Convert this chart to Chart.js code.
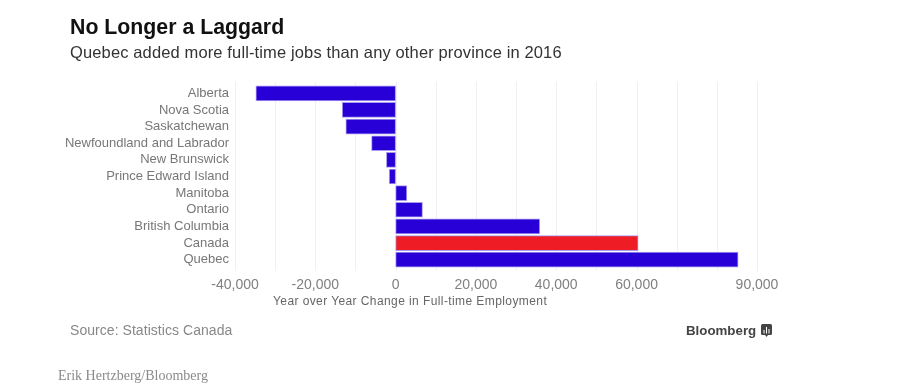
<!DOCTYPE html>
<html>
<head>
<meta charset="utf-8">
<script src="https://cdn.jsdelivr.net/npm/chart.js@4"></script>
<style>
  html, body { margin: 0; padding: 0; background: #fff; }
  #wrap { position: relative; width: 920px; height: 388px; overflow: hidden; font-family: "Liberation Sans", Arial, sans-serif; }
  #stockChart { position: absolute; left: 0; top: 0; }
  .txt { position: absolute; white-space: nowrap; line-height: 1; }
  #title { left: 70px; top: 17px; font-size: 21.3px; font-weight: bold; color: #111; }
  #subtitle { left: 70px; top: 44px; font-size: 16.5px; color: #333; letter-spacing: 0.13px; }
  #axisTitle { left: 273px; top: 295px; font-size: 12px; color: #666; letter-spacing: 0.41px; }
  #source { left: 70px; top: 323px; font-size: 14px; color: #888; letter-spacing: 0.05px; }
  #brand { left: 686px; top: 324px; font-size: 13.3px; font-weight: bold; color: #444; }
  #logo { position: absolute; left: 761px; top: 324px; }
  #credit { left: 58px; top: 369px; font-family: "Liberation Serif", serif; font-size: 14px; color: #8a8a8a; }
</style>
</head>
<body>
<div id="wrap">
  <canvas id="stockChart" width="920" height="388"></canvas>
  <div class="txt" id="title">No Longer a Laggard</div>
  <div class="txt" id="subtitle">Quebec added more full-time jobs than any other province in 2016</div>
  <div class="txt" id="axisTitle">Year over Year Change in Full-time Employment</div>
  <div class="txt" id="source">Source: Statistics Canada</div>
  <div class="txt" id="brand">Bloomberg</div>
  <svg id="logo" width="11" height="14" viewBox="0 0 11 14">
    <rect x="0" y="0" width="11" height="11" rx="1.5" fill="#444"/>
    <path d="M4 11h3l-1.5 2z" fill="#444"/>
    <rect x="2.5" y="6" width="1" height="3.5" fill="#fff"/>
    <rect x="5" y="3" width="1" height="6.5" fill="#fff"/>
    <rect x="7.5" y="5" width="1" height="4.5" fill="#fff"/>
  </svg>
  <div class="txt" id="credit">Erik Hertzberg/Bloomberg</div>
</div>
<script>
let categories = ["Alberta", "Nova Scotia", "Saskatchewan", "Newfoundland and Labrador", "New Brunswick",
  "Prince Edward Island", "Manitoba", "Ontario", "British Columbia", "Canada", "Quebec"];
let jobChange = [-34800, -13300, -12400, -6000, -2300, -1600, 2800, 6700, 35900, 60400, 85300];
let labelledTicks = [-40000, -20000, 0, 20000, 40000, 60000, 90000];

//Canada is the one red bar
let barColors = categories.map(c => c === "Canada" ? "#ee1c25" : "#2800d7");
let gridColor = "#eef0f3";

//Gridlines run a little past the plot area, so they are drawn here
let longGrid = {
  id: "longGrid",
  beforeDatasetsDraw(chart) {
    let ctx = chart.ctx, area = chart.chartArea, x = chart.scales.x;
    ctx.save();
    ctx.strokeStyle = gridColor;
    ctx.lineWidth = 1;
    x.ticks.forEach(t => {
      let px = Math.round(x.getPixelForValue(t.value)) + 0.5;
      ctx.beginPath();
      ctx.moveTo(px, area.top - 3);
      ctx.lineTo(px, area.bottom + 3);
      ctx.stroke();
    });
    ctx.restore();
  }
};

var ctx = document.getElementById("stockChart").getContext("2d");
var chart = new Chart(ctx, {
  type: "bar",
  data: {
    labels: categories,
    datasets: [{
      data: jobChange,
      backgroundColor: barColors,
      borderColor: "#a99cf0",
      borderWidth: 1,
      borderSkipped: false,
      barThickness: 15
    }]
  },
  options: {
    indexAxis: "y",
    responsive: false,
    animation: false,
    layout: { padding: { left: 0, right: 163, top: 85, bottom: 0 } },
    plugins: { legend: { display: false }, tooltip: { enabled: false } },
    scales: {
      x: {
        min: -40000,
        max: 90000,
        afterFit(s) { s.height = 120; },
        grid: { display: false, drawTicks: false },
        border: { display: false },
        ticks: {
          stepSize: 10000,
          autoSkip: false,
          maxRotation: 0,
          padding: 9,
          color: "#808080",
          font: { family: "Liberation Sans", size: 14 },
          callback: v => labelledTicks.includes(v) ? v.toLocaleString("en-US") : ""
        }
      },
      y: {
        afterFit(s) { s.width = 235; },
        grid: { display: false, drawTicks: false },
        border: { display: false },
        ticks: {
          autoSkip: false,
          padding: 6,
          color: "#777",
          font: { family: "Liberation Sans", size: 13 }
        }
      }
    }
  },
  plugins: [longGrid]
});
</script>
</body>
</html>
